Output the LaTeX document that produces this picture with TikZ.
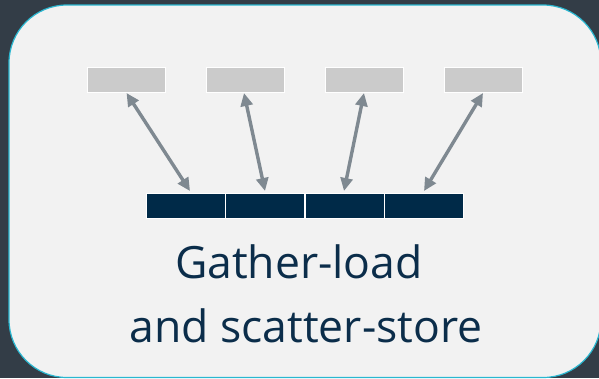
\documentclass[tikz,border=0pt]{standalone}
\usepackage{fontspec}
\setmainfont{Open Sans}
\usetikzlibrary{arrows.meta}
\definecolor{bgdark}{HTML}{333D47}
\definecolor{panel}{HTML}{F2F2F2}
\definecolor{cyanedge}{HTML}{2AB7D0}
\definecolor{memgray}{HTML}{CBCBCB}
\definecolor{regnavy}{HTML}{002A48}
\definecolor{arrowgray}{HTML}{7F8991}
\definecolor{textnavy}{HTML}{0B2D4A}
\begin{document}
\begin{tikzpicture}[x=1pt,y=-1pt,
  memcell/.style={fill=memgray,draw=white,line width=0.8pt,minimum width=78pt,minimum height=25pt,inner sep=0pt,anchor=north west},
  regcell/.style={fill=regnavy,draw=white,line width=0.8pt,minimum width=79pt,minimum height=25pt,inner sep=0pt,anchor=north west},
  link/.style={draw=arrowgray,line width=3.4pt,{Triangle[length=13pt,width=12pt]}-{Triangle[length=13pt,width=12pt]}},
  caption/.style={text=textnavy,font=\fontsize{44.5}{64}\selectfont,align=center}]
\useasboundingbox (0,0) rectangle (599,378);
\fill[bgdark] (0,0) rectangle (599,378);
\begin{scope}
\clip (0,0) rectangle (599,378);
\draw[fill=panel,draw=cyanedge,line width=1.2pt,rounded corners=58pt] (9,5) rectangle (601,377.5);
\end{scope}
\node[memcell] (m1) at (87,67) {};
\node[memcell] (m2) at (206,67) {};
\node[memcell] (m3) at (325,67) {};
\node[memcell] (m4) at (444,67) {};
\node[regcell] (r1) at (146,192.5) {};
\node[regcell] (r2) at (225,192.5) {};
\node[regcell] (r3) at (304.5,192.5) {};
\node[regcell] (r4) at (384,192.5) {};
\coordinate (a1) at (126.5,93);
\coordinate (b1) at (190,191);
\coordinate (a2) at (244,93);
\coordinate (b2) at (265,191);
\coordinate (a3) at (364,93);
\coordinate (b3) at (344,191);
\coordinate (a4) at (483,93);
\coordinate (b4) at (424,191);
\draw[link] (a1) -- (b1);
\draw[link] (a2) -- (b2);
\draw[link] (a3) -- (b3);
\draw[link] (a4) -- (b4);
\node[caption,anchor=base] (t1) at (299,278) {Gather-load};
\node[caption,anchor=base] (t2) at (306,342) {and scatter-store};
\end{tikzpicture}
\end{document}
